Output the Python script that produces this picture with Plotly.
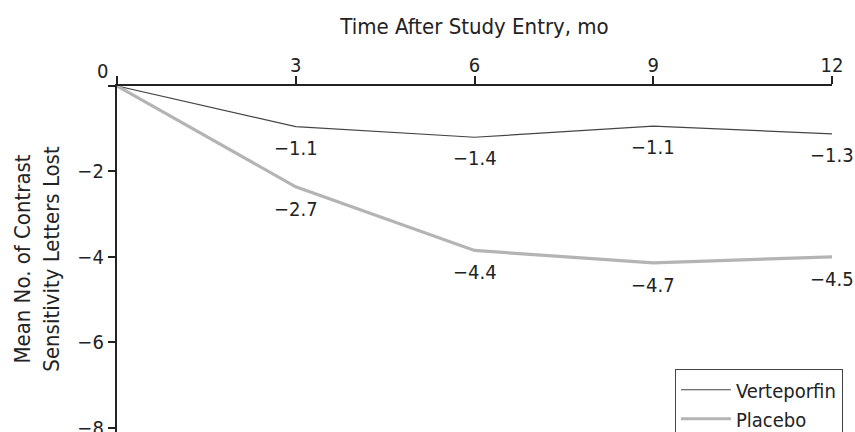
import plotly.graph_objects as go

# Data
months = [0, 3, 6, 9, 12]
verteporfin_y = [0, -0.95, -1.20, -0.94, -1.12]
placebo_y = [0, -2.36, -3.85, -4.14, -4.00]
verteporfin_labels = ["", "\u22121.1", "\u22121.4", "\u22121.1", "\u22121.3"]
placebo_labels = ["", "\u22122.7", "\u22124.4", "\u22124.7", "\u22124.5"]
x_tick_vals = [0, 3, 6, 9, 12]
x_tick_text = ["", "3", "6", "9", "12"]
y_tick_vals = [0, -2, -4, -6, -8]
y_tick_text = ["", "\u22122", "\u22124", "\u22126", "\u22128"]
origin_label = "0"

FONT = "DejaVu Sans Condensed, Liberation Sans Narrow, sans-serif"
DARK = "#454545"
LIGHT = "#b4b4b4"
AXIS = "#222222"

fig = go.Figure()
fig.add_trace(go.Scatter(x=months, y=verteporfin_y, mode="lines", name="Verteporfin",
                         line=dict(color=DARK, width=1.2)))
fig.add_trace(go.Scatter(x=months, y=placebo_y, mode="lines", name="Placebo",
                         line=dict(color=LIGHT, width=3.2)))

annotations = []
for xv, yv, t in zip(months, verteporfin_y, verteporfin_labels):
    if t:
        annotations.append(dict(x=xv, y=yv, text=t, showarrow=False, yshift=-21,
                                font=dict(family=FONT, size=20, color="#222")))
for xv, yv, t in zip(months, placebo_y, placebo_labels):
    if t:
        annotations.append(dict(x=xv, y=yv, text=t, showarrow=False, yshift=-22,
                                font=dict(family=FONT, size=20, color="#222")))
annotations.append(dict(x=0, y=0, text=origin_label, showarrow=False, xanchor="right",
                        yanchor="middle", xshift=-7, yshift=15,
                        font=dict(family=FONT, size=20, color="#222")))

fig.update_layout(
    width=855, height=432,
    margin=dict(l=117, r=23, t=86, b=0, autoexpand=False),
    paper_bgcolor="white", plot_bgcolor="white",
    font=dict(family=FONT, size=20, color="#222"),
    showlegend=True,
    legend=dict(x=0.78, xanchor="left", y=0.182, yanchor="top",
                bordercolor="#444", borderwidth=1.2, bgcolor="white",
                font=dict(family=FONT, size=20, color="#222"),
                tracegroupgap=0, itemwidth=50),
    annotations=annotations,
)
fig.update_xaxes(side="top", range=[0, 12], tickvals=x_tick_vals, ticktext=x_tick_text,
                 ticks="outside", ticklen=8, tickwidth=2, tickcolor=AXIS, automargin=False,
                 ticklabelstandoff=-4,
                 showline=True, linewidth=2.2, linecolor=AXIS, showgrid=False, zeroline=False,
                 title=dict(text="Time After Study Entry, mo", standoff=12,
                            font=dict(family=FONT, size=22, color="#222")),
                 tickfont=dict(family=FONT, size=20, color="#222"))
fig.update_yaxes(range=[-8.1, 0], tickvals=y_tick_vals, ticktext=y_tick_text,
                 ticks="outside", ticklen=7, tickwidth=2, tickcolor=AXIS, automargin=False,
                 ticklabeloverflow="allow",
                 showline=True, linewidth=2.2, linecolor=AXIS, showgrid=False, zeroline=False,
                 title=dict(text="Mean No. of Contrast<br>Sensitivity Letters Lost", standoff=12,
                            font=dict(family=FONT, size=22, color="#222")),
                 tickfont=dict(family=FONT, size=20, color="#222"))

fig.write_html("out.html", post_script="document.body.style.margin='0';",
               config={"displayModeBar": False})
